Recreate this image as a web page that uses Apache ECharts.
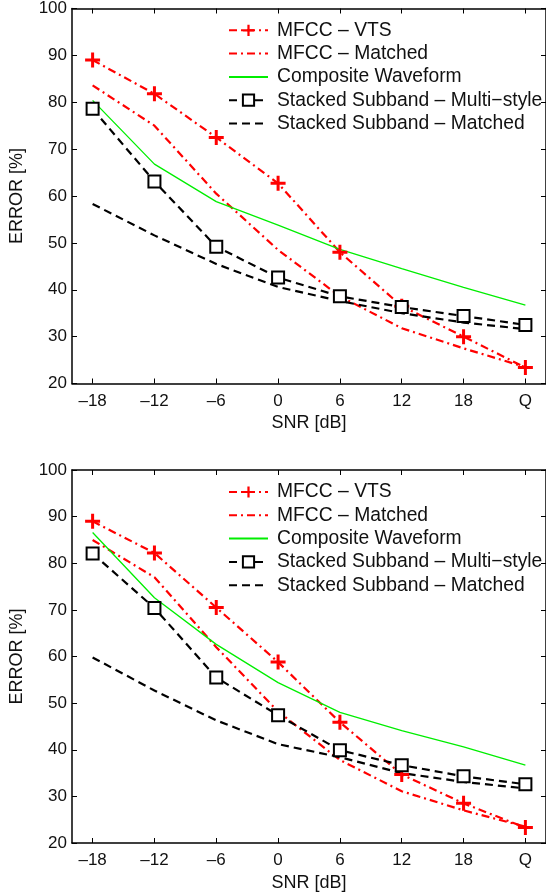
<!DOCTYPE html>
<html>
<head>
<meta charset="utf-8">
<script src="https://cdn.jsdelivr.net/npm/echarts@6/dist/echarts.min.js"></script>
<style>
html,body{margin:0;padding:0;background:#fff;}
#c{width:546px;height:893px;}
</style>
</head>
<body>
<div id="c"></div>
<script>
// ---- data ----
const categories = ['\u201318', '\u201312', '\u20136', '0', '6', '12', '18', 'Q'];
const snrValues = [-18, -12, -6, 0, 6, 12, 18, 24];
const seriesNames = ['MFCC \u2013 VTS', 'MFCC \u2013 Matched', 'Composite Waveform', 'Stacked Subband \u2013 Multi\u2212style', 'Stacked Subband \u2013 Matched'];

// top panel
const topVTS       = [89.0, 81.8, 72.5, 62.7, 48.0, 36.5, 30.0, 23.4];
const topMatched   = [83.6, 75.0, 60.5, 48.5, 38.6, 31.8, 27.5, 23.5];
const topComposite = [80.4, 66.8, 58.8, 53.8, 48.6, 44.5, 40.5, 36.7];
const topMulti     = [78.6, 63.1, 49.2, 42.6, 38.6, 36.3, 34.4, 32.5];
const topSSMatched = [58.3, 51.6, 45.5, 40.6, 37.6, 35.0, 33.0, 31.6];

// bottom panel
const botVTS       = [89.0, 82.2, 70.5, 58.8, 45.9, 34.7, 28.5, 23.3];
const botMatched   = [85.0, 77.0, 62.0, 48.2, 37.8, 31.1, 27.0, 23.5];
const botComposite = [86.6, 72.6, 62.6, 54.4, 48.0, 44.1, 40.6, 36.7];
const botMulti     = [82.1, 70.4, 55.5, 47.4, 39.9, 36.7, 34.3, 32.6];
const botSSMatched = [59.8, 52.7, 46.3, 41.2, 38.4, 35.0, 33.1, 31.7];

// ---- styling ----
const FONT = 'Liberation Sans';
const TXT = '#111';
const plusPath = 'path://M4,0H6V4H10V6H6V10H4V6H0V4H4Z';
const dashDot = [8, 4, 2, 4];
const dashed = [8, 5];
const hasMarker = [true, false, false, true, false];

function pairs(vals) { return vals.map((v, i) => [snrValues[i], v]); }
function labelFor(v) { const i = snrValues.indexOf(v); return i >= 0 ? categories[i] : ''; }

const grids = [
  { left: 71.5, right: -1, top: 8.5, height: 375 },
  { left: 71.5, right: -1, top: 470, height: 375 }
];

const xAxes = [], yAxes = [], series = [], legends = [];
const panels = [
  [topVTS, topMatched, topComposite, topMulti, topSSMatched],
  [botVTS, botMatched, botComposite, botMulti, botSSMatched]
];
const legendTops = [15.3, 477];

panels.forEach((p, g) => {
  xAxes.push({
    gridIndex: g, type: 'value', min: -20, max: 26, position: 'bottom',
    name: 'SNR [dB]', nameLocation: 'middle', nameGap: 31,
    nameTextStyle: { fontFamily: FONT, fontSize: 18, color: TXT },
    axisLine: { show: true, onZero: false, lineStyle: { color: '#000', width: 1.5 } },
    axisTick: { show: true, inside: true, length: 5, customValues: snrValues, lineStyle: { color: '#000', width: 1 } },
    axisLabel: { show: true, customValues: snrValues, formatter: v => labelFor(v), margin: 9, fontFamily: FONT, fontSize: 17, color: TXT },
    splitLine: { show: false }
  });
  xAxes.push({
    gridIndex: g, type: 'value', min: -20, max: 26, position: 'top',
    axisLine: { show: true, onZero: false, lineStyle: { color: '#000', width: 1.5 } },
    axisTick: { show: true, inside: true, length: 5, customValues: snrValues, lineStyle: { color: '#000', width: 1 } },
    axisLabel: { show: false }, splitLine: { show: false }
  });
  yAxes.push({
    gridIndex: g, type: 'value', min: 20, max: 100, interval: 10, position: 'left',
    name: 'ERROR [%]', nameLocation: 'middle', nameGap: 46, nameRotate: 90,
    nameTextStyle: { fontFamily: FONT, fontSize: 18, color: TXT },
    axisLine: { show: true, onZero: false, lineStyle: { color: '#000', width: 1.5 } },
    axisTick: { show: true, inside: true, length: 5, lineStyle: { color: '#000', width: 1 } },
    axisLabel: { show: true, margin: 5, fontFamily: FONT, fontSize: 17, color: TXT },
    splitLine: { show: false }
  });
  yAxes.push({
    gridIndex: g, type: 'value', min: 20, max: 100, interval: 10, position: 'right',
    axisLine: { show: true, onZero: false, lineStyle: { color: '#000', width: 1.5 } },
    axisTick: { show: true, inside: true, length: 5, lineStyle: { color: '#000', width: 1 } },
    axisLabel: { show: false }, splitLine: { show: false }
  });
  const xi = g * 2, yi = g * 2;
  series.push({
    name: seriesNames[0], type: 'line', xAxisIndex: xi, yAxisIndex: yi, data: pairs(p[0]),
    symbol: plusPath, symbolSize: 15, showSymbol: true,
    lineStyle: { color: '#ff0000', width: 2.2, type: dashDot },
    itemStyle: { color: '#ff0000' }, emphasis: { disabled: true }, animation: false
  });
  series.push({
    name: seriesNames[1], type: 'line', xAxisIndex: xi, yAxisIndex: yi, data: pairs(p[1]),
    symbol: 'none',
    lineStyle: { color: '#ff0000', width: 2.2, type: dashDot },
    itemStyle: { color: '#ff0000' }, emphasis: { disabled: true }, animation: false
  });
  series.push({
    name: seriesNames[2], type: 'line', xAxisIndex: xi, yAxisIndex: yi, data: pairs(p[2]),
    symbol: 'none',
    lineStyle: { color: '#00ee00', width: 1.3, type: 'solid' },
    itemStyle: { color: '#00ee00' }, emphasis: { disabled: true }, animation: false
  });
  series.push({
    name: seriesNames[3], type: 'line', xAxisIndex: xi, yAxisIndex: yi, data: pairs(p[3]),
    symbol: 'emptyRect', symbolSize: 12, showSymbol: true,
    lineStyle: { color: '#000', width: 2.2, type: dashed },
    itemStyle: { color: '#000', borderColor: '#000', borderWidth: 2.2 }, emphasis: { disabled: true }, animation: false
  });
  series.push({
    name: seriesNames[4], type: 'line', xAxisIndex: xi, yAxisIndex: yi, data: pairs(p[4]),
    symbol: 'none',
    lineStyle: { color: '#000', width: 2.2, type: dashed },
    itemStyle: { color: '#000' }, emphasis: { disabled: true }, animation: false
  });
  legends.push({
    orient: 'vertical', left: 223, top: legendTops[g],
    itemWidth: 39, itemHeight: 14, itemGap: 3.3,
    textStyle: { fontFamily: FONT, fontSize: 19.3, color: TXT, lineHeight: 20, padding: [0, 0, 0, 4] },
    data: seriesNames.map((n, i) => hasMarker[i] ? { name: n } : { name: n, itemStyle: { opacity: 0 } }),
    selectedMode: false, backgroundColor: 'transparent'
  });
});

const chart = echarts.init(document.getElementById('c'), null, { renderer: 'canvas' });
chart.setOption({
  backgroundColor: '#fff',
  animation: false,
  grid: grids,
  xAxis: xAxes,
  yAxis: yAxes,
  legend: legends,
  series: series
});
</script>
</body>
</html>
